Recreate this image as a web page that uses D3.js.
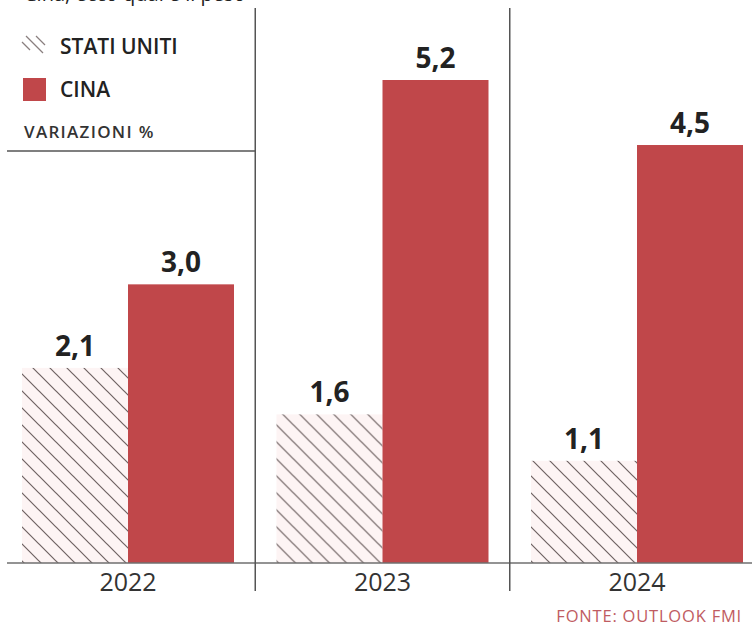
<!DOCTYPE html>
<html>
<head>
<meta charset="utf-8">
<script src="https://cdn.jsdelivr.net/npm/d3@7"></script>
<style>
  html, body { margin: 0; padding: 0; background: #fff; }
  svg { display: block; }
</style>
</head>
<body>
<svg id="chart" width="752" height="630"></svg>
<script>
// Crescita del PIL, variazioni % (fonte: Outlook FMI)
const years = ["2022", "2023", "2024"];
const series = ["STATI UNITI", "CINA"];
const usaValues = [2.1, 1.6, 1.1];
const chinaValues = [3.0, 5.2, 4.5];
const valueLabels = { "STATI UNITI": ["2,1", "1,6", "1,1"], "CINA": ["3,0", "5,2", "4,5"] };

const RED = "#c0474a";
const HATCH_BG = "#fdf4f4";
const HATCH_LINE = "#6e6262";
const FONT = "'Open Sans', 'Noto Sans', sans-serif";

const svg = d3.select("#chart");
const baseY = 563;

const rows = years.map((y, i) => ({ year: y, values: [usaValues[i], chinaValues[i]] }));

const x = d3.scaleBand().domain(years).range([0.75, 764.25])
  .paddingInner(0.167).paddingOuter(0.0835);
const xs = d3.scaleBand().domain(series).range([0, x.bandwidth()]).padding(0);
const y = d3.scaleLinear().domain([0, 5.2]).range([baseY, 80]);

// diagonal hatch for the US bars
const defs = svg.append("defs");
const pat = defs.append("pattern")
  .attr("id", "hatch").attr("patternUnits", "userSpaceOnUse")
  .attr("width", 17).attr("height", 17);
pat.append("rect").attr("width", 17).attr("height", 17).attr("fill", HATCH_BG);
pat.append("path")
  .attr("d", "M0,0L17,17M-8.5,8.5L8.5,25.5M8.5,-8.5L25.5,8.5")
  .attr("stroke", HATCH_LINE).attr("stroke-width", 1.2);

// tail of the line of text running above the chart
svg.append("text")
  .attr("x", 24).attr("y", 1)
  .attr("font-family", FONT).attr("font-size", 20).attr("fill", "#222")
  .text("Cina, ecco qual è il peso");

// bars
const groups = svg.append("g").selectAll("g").data(rows).join("g")
  .attr("transform", d => `translate(${x(d.year)},0)`);

groups.selectAll("rect").data(d => d.values.map((v, i) => ({ key: series[i], v })))
  .join("rect")
  .attr("x", d => xs(d.key))
  .attr("width", xs.bandwidth())
  .attr("y", d => y(d.v))
  .attr("height", d => baseY - y(d.v))
  .attr("fill", d => d.key === "CINA" ? RED : "url(#hatch)");

// value labels
groups.selectAll("text.val").data((d, gi) => d.values.map((v, i) => ({ key: series[i], v, label: valueLabels[series[i]][gi] })))
  .join("text").attr("class", "val")
  .attr("x", d => xs(d.key) + xs.bandwidth() / 2)
  .attr("y", d => y(d.v) - 12)
  .attr("text-anchor", "middle")
  .attr("font-family", FONT).attr("font-weight", 700).attr("font-size", 28)
  .attr("fill", "#222")
  .text(d => d.label);

// baseline
svg.append("line")
  .attr("x1", 7).attr("x2", 752).attr("y1", baseY).attr("y2", baseY)
  .attr("stroke", "#6f6f6f").attr("stroke-width", 1.5);

// separators between years
const seps = years.slice(1).map(yr => x(yr) - (x.step() - x.bandwidth()) / 2);
svg.append("g").selectAll("line").data(seps).join("line")
  .attr("x1", d => d).attr("x2", d => d)
  .attr("y1", 8).attr("y2", 591)
  .attr("stroke", "#555").attr("stroke-width", 1.5);

// year axis labels
const xAxis = d3.axisBottom(x).tickSize(0).tickPadding(10);
const ax = svg.append("g").attr("transform", `translate(0,${baseY})`).call(xAxis);
ax.select(".domain").remove();
ax.selectAll("text")
  .attr("font-family", FONT).attr("font-size", 25).attr("fill", "#333");

// legend: hatch swatch drawn as short diagonal strokes
const lg = svg.append("g");
const swatch = [
  { x1: 22, y1: 42, x2: 30, y2: 50 },
  { x1: 26, y1: 36, x2: 43, y2: 53 },
  { x1: 36, y1: 36, x2: 45, y2: 45 }
];
lg.selectAll("line.hl").data(swatch).join("line").attr("class", "hl")
  .attr("x1", d => d.x1).attr("y1", d => d.y1)
  .attr("x2", d => d.x2).attr("y2", d => d.y2)
  .attr("stroke", "#8a7f7f").attr("stroke-width", 1.3);
lg.append("text").attr("x", 60).attr("y", 54)
  .attr("font-family", FONT).attr("font-weight", 600).attr("font-size", 21)
  .attr("fill", "#222").text(series[0]);
lg.append("rect").attr("x", 23).attr("y", 78).attr("width", 23).attr("height", 23)
  .attr("fill", RED);
lg.append("text").attr("x", 60).attr("y", 97)
  .attr("font-family", FONT).attr("font-weight", 600).attr("font-size", 21)
  .attr("fill", "#222").text(series[1]);
lg.append("text").attr("x", 24).attr("y", 138)
  .attr("font-family", FONT).attr("font-weight", 600).attr("font-size", 17)
  .attr("letter-spacing", 1.3).attr("fill", "#333").text("VARIAZIONI %");
lg.append("line").attr("x1", 7).attr("x2", seps[0]).attr("y1", 151).attr("y2", 151)
  .attr("stroke", "#555").attr("stroke-width", 1.5);

// source
svg.append("text").attr("x", 742).attr("y", 622).attr("text-anchor", "end")
  .attr("font-family", FONT).attr("font-size", 16.5).attr("letter-spacing", 0.8)
  .attr("fill", "#bf5c62").text("FONTE: OUTLOOK FMI");
</script>
</body>
</html>
